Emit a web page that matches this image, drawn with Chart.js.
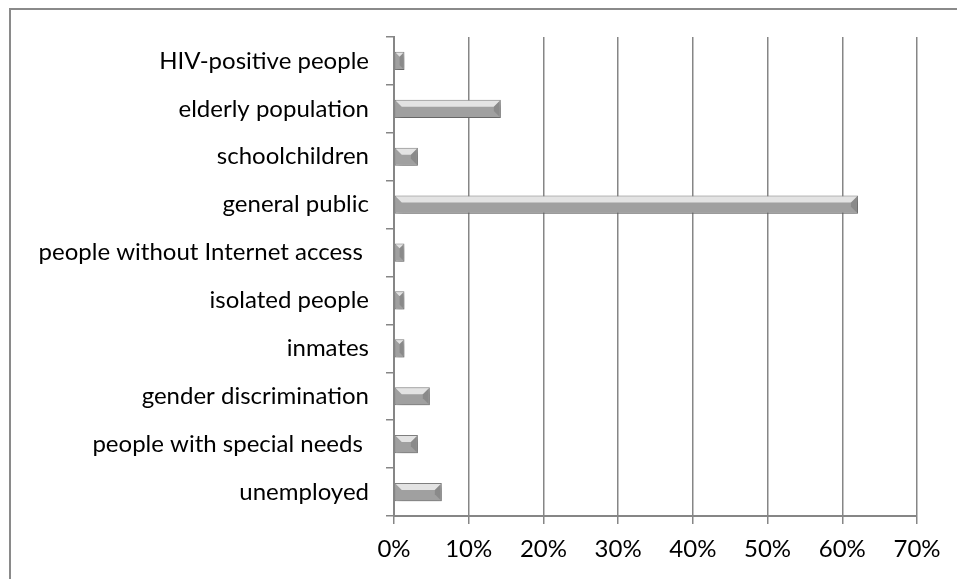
<!DOCTYPE html>
<html>
<head>
<meta charset="utf-8">
<script src="https://cdn.jsdelivr.net/npm/chart.js@4"></script>
<style>
  html, body { margin: 0; padding: 0; background: #fff; }
  #wrap { width: 957px; height: 579px; }
</style>
</head>
<body>
<div id="wrap"><canvas id="groupChart"></canvas></div>
<script>
const groups = ["HIV-positive people", "elderly population", "schoolchildren", "general public",
    "people without Internet access ", "isolated people", "inmates", "gender discrimination",
    "people with special needs ", "unemployed"];
const shares = [1.4, 14.3, 3.2, 62.1, 1.4, 1.4, 1.4, 4.8, 3.2, 6.4];
const xTicks = [0, 10, 20, 30, 40, 50, 60, 70];

const FONT = "Lato, 'Open Sans', sans-serif";
const GRID = "#868686";

// frame around the chart (only top and left edges are visible in the picture)
const framePlugin = {
    id: 'frame',
    beforeDraw(chart) {
        const ctx = chart.ctx;
        ctx.save();
        ctx.strokeStyle = "#8a8a8a";
        ctx.lineWidth = 2;
        ctx.strokeRect(10, 9, chart.width + 20, chart.height + 20);
        ctx.restore();
    }
};

// soft shadow under the bars, then a bevel on top to mimic the office 3D style
const bevelPlugin = {
    id: 'bevel',
    beforeDatasetsDraw(chart) {
        const ctx = chart.ctx;
        ctx.save();
        ctx.shadowColor = "rgba(0,0,0,0.25)";
        ctx.shadowBlur = 5;
        ctx.shadowOffsetX = 2;
        ctx.shadowOffsetY = 3;
    },
    afterDatasetsDraw(chart) {
        const ctx = chart.ctx;
        ctx.restore();
        chart.getDatasetMeta(0).data.forEach(bar => {
            const x0 = bar.base, x1 = bar.x;
            const h = bar.height, y0 = bar.y - h / 2, y1 = bar.y + h / 2;
            const b = Math.min(7, (x1 - x0) / 2);
            ctx.save();
            // top light bevel
            ctx.fillStyle = "rgba(255,255,255,0.7)";
            ctx.beginPath();
            ctx.moveTo(x0 + 1, y0 + 1); ctx.lineTo(x1 - 1, y0 + 1); ctx.lineTo(x1 - b, y0 + b); ctx.lineTo(x0 + b, y0 + b);
            ctx.closePath(); ctx.fill();
            // right dark bevel
            ctx.fillStyle = "rgba(90,90,90,0.3)";
            ctx.beginPath();
            ctx.moveTo(x1 - 1, y0 + 1); ctx.lineTo(x1 - 1, y1 - 1); ctx.lineTo(x1 - b, y1 - b); ctx.lineTo(x1 - b, y0 + b);
            ctx.closePath(); ctx.fill();
            ctx.restore();
        });
    }
};

function barGradient(context) {
    const el = context.element;
    if (!context.chart.chartArea || !el || !el.height) return "#a0a0a0";
    const y0 = el.y - el.height / 2, y1 = el.y + el.height / 2;
    const g = context.chart.ctx.createLinearGradient(0, y0, 0, y1);
    g.addColorStop(0, "#c4c4c4");
    g.addColorStop(0.12, "#fafafa");
    g.addColorStop(0.45, "#dcdcdc");
    g.addColorStop(0.8, "#a4a4a4");
    g.addColorStop(1, "#7a7a7a");
    return g;
}

new Chart(document.getElementById('groupChart'), {
    type: 'bar',
    data: {
        labels: groups,
        datasets: [{
            data: shares,
            backgroundColor: barGradient,
            borderColor: "#808080",
            borderWidth: 1,
            borderSkipped: false,
            categoryPercentage: 1,
            barPercentage: 0.38
        }]
    },
    options: {
        indexAxis: 'y',
        responsive: true,
        maintainAspectRatio: false,
        animation: false,
        layout: { padding: { top: 37, right: 40, left: 0, bottom: 0 } },
        plugins: {
            legend: { display: false },
            tooltip: { enabled: false }
        },
        scales: {
            x: {
                min: 0,
                max: 70,
                afterBuildTicks(scale) { scale.ticks = xTicks.map(v => ({ value: v })); },
                afterFit(scale) { scale.height = 579 - 516; },
                grid: { color: GRID, lineWidth: 1.5, tickLength: 8, drawOnChartArea: true },
                border: { color: GRID, width: 2 },
                ticks: {
                    color: "#000",
                    padding: 11,
                    font: { family: FONT, size: 24 },
                    callback: v => v + "%"
                }
            },
            y: {
                afterFit(scale) { scale.width = 394; },
                grid: { color: GRID, lineWidth: 1.5, tickLength: 8, drawOnChartArea: false, offset: true },
                border: { color: GRID, width: 2 },
                ticks: {
                    color: "#000",
                    padding: 17,
                    autoSkip: false,
                    font: { family: FONT, size: 24 }
                }
            }
        }
    },
    plugins: [framePlugin, bevelPlugin]
});
</script>
</body>
</html>
